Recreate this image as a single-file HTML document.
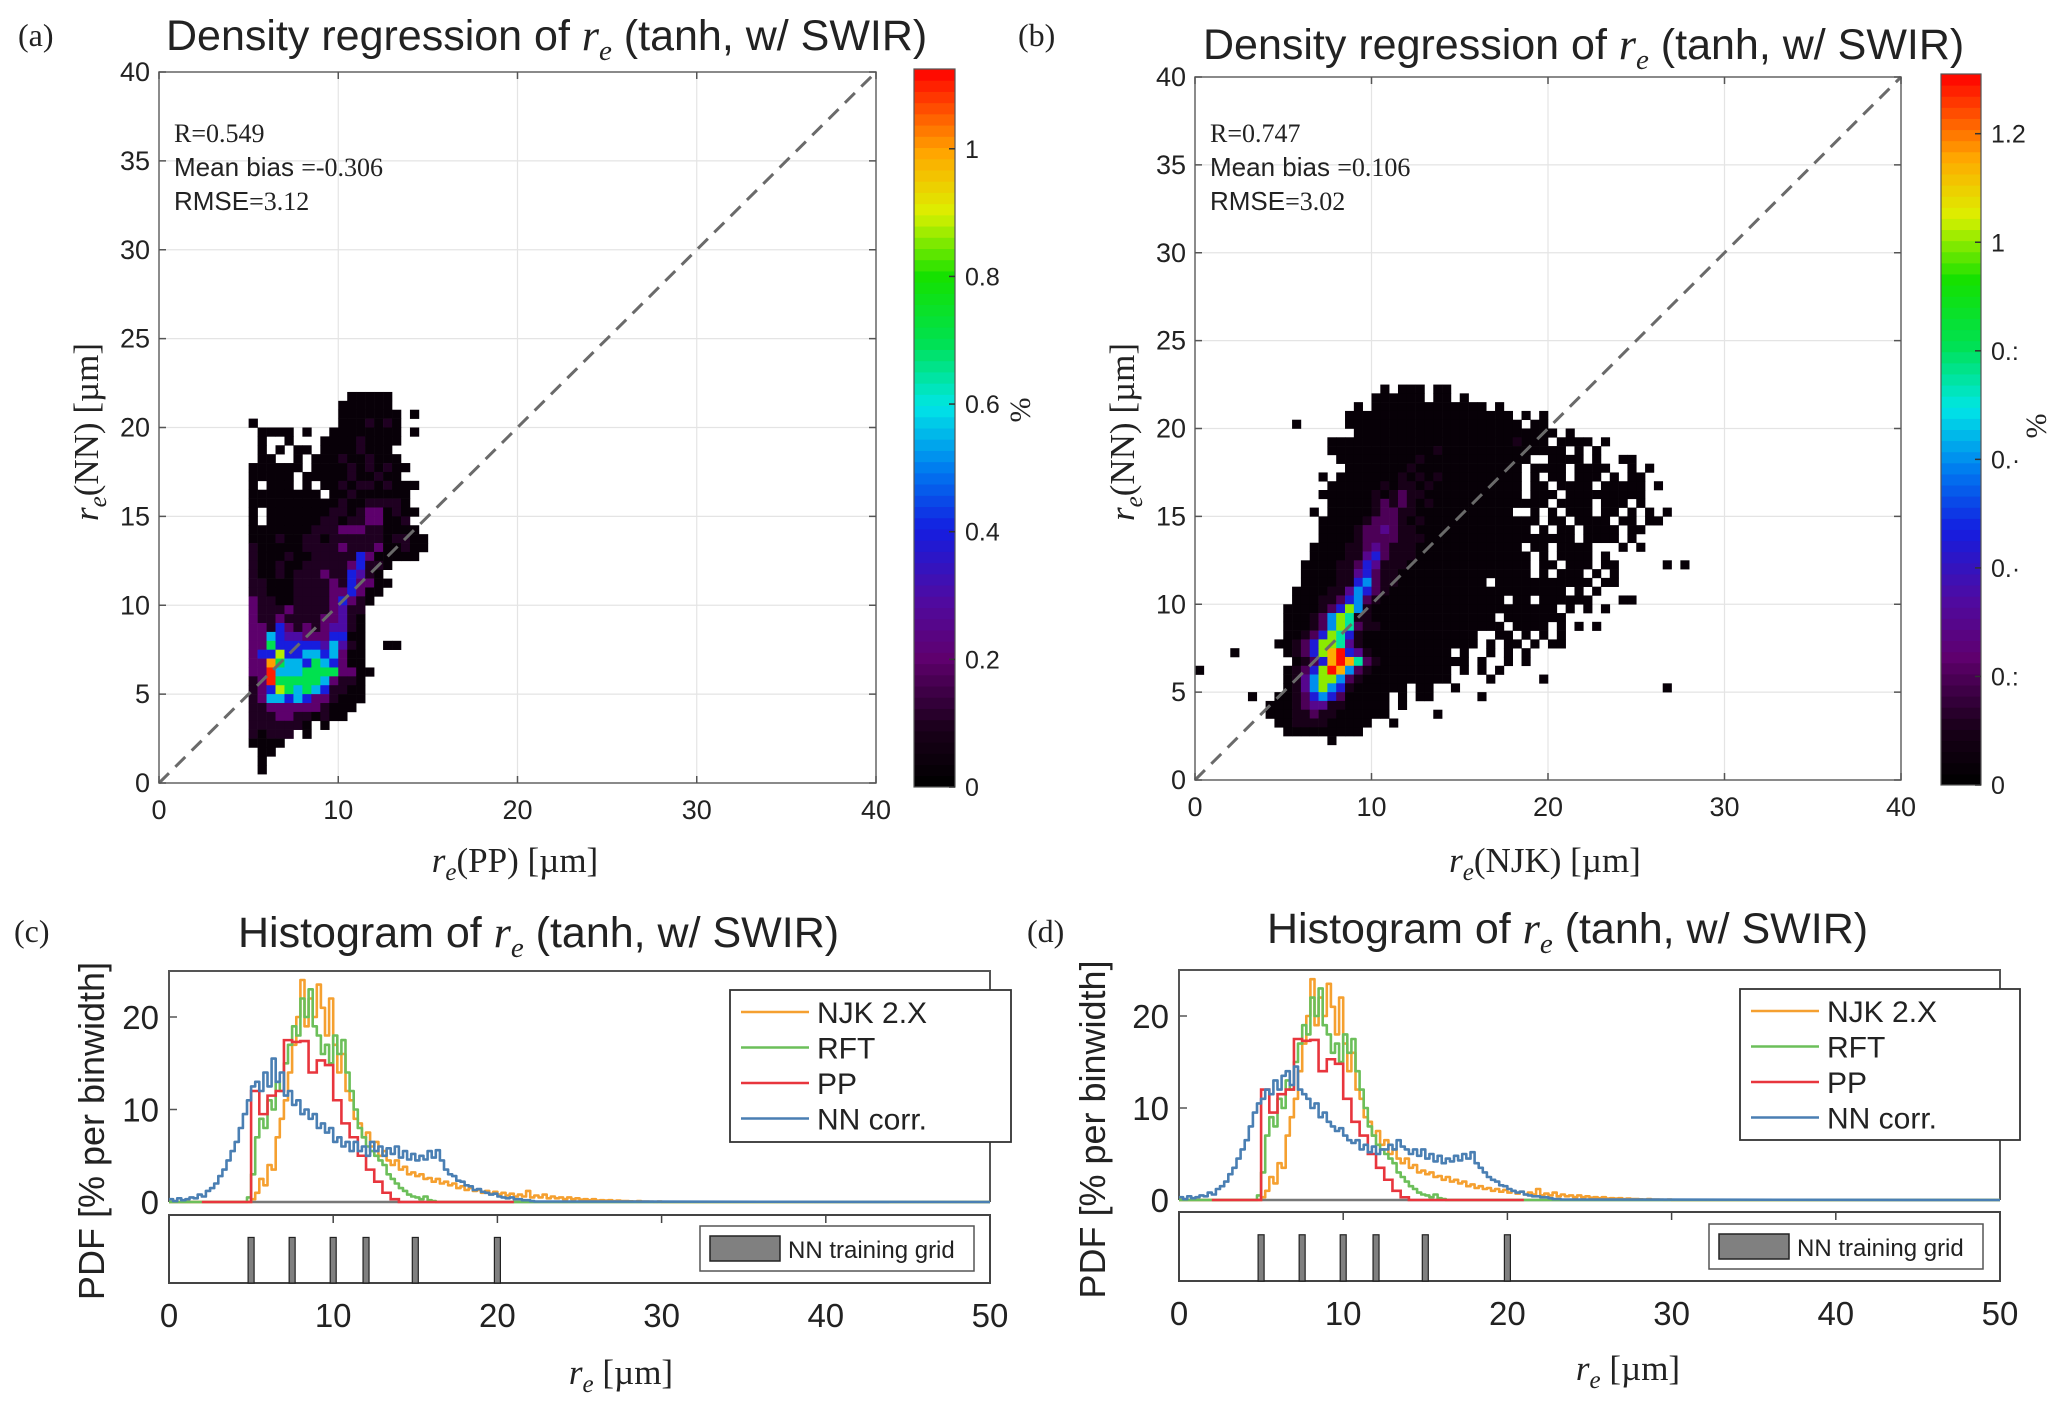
<!DOCTYPE html>
<html><head><meta charset="utf-8"><title>NN re density regressions and histograms</title>
<style>
html,body{margin:0;padding:0;background:#fff;}
svg{display:block;}
text{font-family:"Liberation Sans",sans-serif;fill:#222;}
.serif{font-family:"Liberation Serif",serif;}
</style></head>
<body>
<svg id="fig" width="2067" height="1410" viewBox="0 0 2067 1410" xmlns="http://www.w3.org/2000/svg">
<rect width="2067" height="1410" fill="#fff"/>
<text class="serif" x="18" y="46" font-size="32">(a)</text>
<text class="serif" x="1018" y="46" font-size="32">(b)</text>
<text class="serif" x="14" y="942" font-size="32">(c)</text>
<text class="serif" x="1027" y="942" font-size="32">(d)</text>

<text x="166" y="50" font-size="43">Density regression of <tspan class="serif" font-style="italic" font-size="44">r</tspan><tspan class="serif" font-style="italic" font-size="29" dy="10">e</tspan><tspan dy="-10"> (tanh, w/ SWIR)</tspan></text>
<text x="1203" y="59" font-size="43">Density regression of <tspan class="serif" font-style="italic" font-size="44">r</tspan><tspan class="serif" font-style="italic" font-size="29" dy="10">e</tspan><tspan dy="-10"> (tanh, w/ SWIR)</tspan></text>
<text x="238" y="947" font-size="43">Histogram of <tspan class="serif" font-style="italic" font-size="44">r</tspan><tspan class="serif" font-style="italic" font-size="29" dy="10">e</tspan><tspan dy="-10"> (tanh, w/ SWIR)</tspan></text>
<text x="1267" y="943" font-size="43">Histogram of <tspan class="serif" font-style="italic" font-size="44">r</tspan><tspan class="serif" font-style="italic" font-size="29" dy="10">e</tspan><tspan dy="-10"> (tanh, w/ SWIR)</tspan></text>
<g id="layer"></g>
</svg>
<script>
// ---------- density data (a): rows top->bottom, y from 21.5 step -0.5; cols x from 5 step 0.5
const aRowTop = 21.5;
const aColStart = 5;
const aRows = [
"...........00000....",
"..........000000....",
"..........0000000.0.",
"0.........0001010...",
".0000.0..00000000.0.",
".0..0...000010000...",
".0.0.00.00001000....",
".00..0.0001001000...",
"000000.00001010100..",
"00000.00000100100...",
"0.000.0.00101101000.",
"00000000.001000000..",
"000000000010011110..",
"0.00000001101220100.",
"0.0000001101122001..",
"0000000111222110000.",
"00010011011111101100",
"10000011112111200100",
"1000100111114200000.",
"1001001111124110....",
"100101112114310.....",
"1100011112142200....",
"110001111224200.....",
"21100111124210......",
"2111211112311.......",
"2112111122310.......",
"2214212123310.......",
"2254332224400.......",
"2264444435310..00...",
"2447445545200.......",
"2286554654200.......",
"22955566662200......",
"1296666652110.......",
"1247656541100.......",
"1255454221000.......",
"112222221000........",
"11122110100.........",
"1111110.0...........",
"10111.0.............",
"0000................",
".00.................",
".0..................",
".0.................."
];
const aLevelVals = [0.03,0.1,0.2,0.3,0.4,0.55,0.7,0.88,1.0,1.1];
const aCbarMax = 1.125;
const aCbarTicks = [0,0.2,0.4,0.6,0.8,1];
const aCbarLabels = ["0","0.2","0.4","0.6","0.8","1"];

// ---------- density data (b): rows top->bottom, y from 22 step -0.5; cols x from 0 step 0.5
const bRowTop = 22.0;
const bColStart = 0;
const bRows = [
".....................0.000.00",
"....................000000.00.0",
"..................0.0000000000000.0",
".................0000000000000000000.0.0",
"...........0.....00000000000000000000.00",
"..................00000000000000000000000.0",
"...............0000000000000000000001000.0000.0",
"...............000000000000100000000000000.0.0",
"................0000000001000000000000..0000.0..00",
".................00000001000000000000.0000.0000..0.0",
"..............0.000000010101000000000.0.00.000.0.00",
"...............0000001011010000000000.00.0000.00000.0",
"..............00000010121100000000000.000.000000000",
"...............0000012121010000000000000.0000.000.0",
".............0.000001221100000000000..0.0.000.00.0.0.0",
"..............0000012221010000000000000.00.0000.00.00",
"..............000012232110000000000000.0.00.0000.00",
"..............00001222211100000000000000000.0000.0",
".............000011232111000000000000.00.0000...0.0",
".............0000113421110000000000000.0.0000.0",
"............00001124311100000000000000.00.000.00.....0.0",
"............00001134211000000000000000.0.000.0.0",
"............000011452110000000000.00000000000.00",
"...........0000113542100000000000000000000.0.0",
"...........000112452100000000000000.00.000000...00",
"..........0000124751000000000000000000000.0.0.0",
"..........000125761100000000000000.0000000..",
"..........0001257621100000000000000.0000.0.0.0",
"..........0012476410000000000000..00.0.0.0..",
".........00124776310000000000000.0.00.0.00",
"....0.....0124789431000000000.0..0.0.0",
"...........01248986210000000000.0..0.0",
"0.........0124798521000000000.0.0.0",
"..........0135775210000000000....0.....0",
"..........01357541000000.00..0.......................0",
"......0..0012454200000.0.00.....0",
"........00012331100000.0",
"........00011211000000.....0",
".........00111100000..0",
"..........000000000",
"...............0"
];
const bLevelVals = [0.03,0.1,0.2,0.3,0.45,0.6,0.75,1.0,1.15,1.3];
const bCbarMax = 1.31;
const bCbarTicks = [0,0.2,0.4,0.6,0.8,1,1.2];
const bCbarLabels = ["0","0.:","0.·","0.·","0.:","1","1.2"];

const densTicks = [0,5,10,15,20,25,30,35,40];
const densXTicks = [0,10,20,30,40];

// ---------- histogram data (x step 0.25 from 0)
const histStep = 0.25;
const njk = [0,0,0,0,0,0,0,0,0,0,0,0,0,0,0,0,0,0,0,0,
0.3,1,2.5,1.8,4,3.5,7,9,11,14,17,20,24,19,22,20,23.5,21,18,22,17,14,16,12,11,9,8.5,7,7.5,6,6.5,5,5.5,4.5,4,4.5,3.5,3.8,3,3.2,2.8,3,2.5,2.6,2.2,2.5,2,2.2,1.8,2,1.5,1.7,1.3,1.5,1.2,1.3,1,1.2,0.9,1.1,0.8,1,0.7,0.9,0.6,0.8,0.6,1.2,0.5,0.7,0.5,0.8,0.4,0.6,0.4,0.5,0.3,0.5,0.3,0.4,0.25,0.3,0.2,0.3,0.15,0.2,0.15,0.2,0.1,0.15,0.1,0.1,0.08,0.05,0.1,0.05,0.05,0.03,0.02,0.05,0];
const rft = [0,0,0,0,0,0,0,0,0,0,0,0,0,0,0,0,0,0,0,0.5,
3,7,9,8,11,10,13,12,15,17,19,18,22,20,23,19,18,16,17,15,18,16,17.5,14,12,10,8,7,6,5.5,5,4.5,4,3,2.5,2,1.5,1.2,0.8,0.6,0.5,0.3,0.6,0.2,0.1,0];
const ppEdges = [5,5.5,6,6.5,7,7.5,8,8.5,9,9.5,10,10.5,11,11.5,12,12.5,13,13.5,14];
const ppVals = [12,9.5,11.5,12,17.5,17.3,17.4,14,15.3,14.8,11,8.5,7,5,3.5,2.2,1,0.3];
const nnC = [0.3,0.1,0.4,0.2,0.3,0.5,0.4,0.8,0.6,1.2,1.5,2,2.8,3.5,4.5,5.5,6.5,8,9.5,11,
12.5,13,12,14,12.5,15.5,13,14,11.5,12,10.5,11,9.5,10,9,9.5,8,8.5,7.5,8,6.5,7,6,6.5,5.5,6.5,5.5,6,5,6.5,5.5,6,5,5.8,5.2,6,4.8,5.5,4.6,5.2,4.5,5,4.6,5.5,4.8,5.6,4.5,3.5,3,2.8,2.3,2.2,1.8,1.7,1.3,1.4,1.1,1,0.8,0.9,0.6,0.5,0.4,0.5,0.3,0.3,0.2,0.2,0.1,0.05,0.05];
const nnD = [0.3,0.1,0.4,0.2,0.3,0.5,0.4,0.8,0.6,1.2,1.5,2,2.8,3.5,4.5,5.5,6.5,8,9.5,10.5,
11,12,11.5,13,12,13.5,14,12.5,14.5,12,11.5,11,10,10.5,9,9.5,8.5,8,7.5,7.8,7,6.5,6.2,6.5,5.5,6,5.2,5.8,5,5.5,5.5,6,5.5,6.5,5.8,5.5,5,5.5,4.8,5.5,4.5,5,4.2,4.8,4,4.5,4.2,4.8,4.3,5,4.5,5.2,4,3.5,3,2.5,2.2,2,1.6,1.5,1.2,1,0.8,0.9,0.6,0.5,0.4,0.4,0.3,0.3,0.2,0.1,0.1,0.05];
const gridVals = [5,7.5,10,12,15,20];
const histYTicks = [0,10,20];
const histXTicks = [0,10,20,30,40,50];
const legendNames = ["NJK 2.X","RFT","PP","NN corr."];

// ---------- drawing ----------
const NS = "http://www.w3.org/2000/svg";
const layer = document.getElementById('layer');
function mk(tag, attrs, parent){
  const e = document.createElementNS(NS, tag);
  for (const k in attrs) e.setAttribute(k, attrs[k]);
  (parent||layer).appendChild(e);
  return e;
}
function cmap(f){
  const st=[[0,[0,0,0]],[0.08,[25,0,25]],[0.18,[95,0,110]],[0.26,[80,10,160]],[0.36,[20,30,225]],[0.44,[0,120,240]],[0.53,[0,230,230]],[0.62,[0,225,80]],[0.71,[20,225,0]],[0.8,[220,240,0]],[0.88,[255,170,0]],[1,[255,0,0]]];
  f=Math.max(0,Math.min(1,f));
  for(let i=1;i<st.length;i++){ if(f<=st[i][0]){const a=st[i-1],b=st[i];const t=(f-a[0])/(b[0]-a[0]);
    const c=a[1].map((v,j)=>Math.round(v+(b[1][j]-v)*t));return 'rgb('+c.join(',')+')';}}
  return 'rgb(255,0,0)';
}

function densityPanel(P, rows, rowTop, colStart, levelVals, cmax, cbTicks, cbLabels, key){
  const sx = v => P.l + (v-0)/40*(P.r-P.l);
  const sy = v => P.b - (v-0)/40*(P.b-P.t);
  const g = mk('g',{});
  
  
  mk('rect',{x:P.l,y:P.t,width:P.r-P.l,height:P.b-P.t,fill:'#fff'},g);
  densTicks.forEach(t=>{
    const gl = mk('line',{x1:P.l,x2:P.r,y1:sy(t),y2:sy(t),stroke:'#e4e4e4','stroke-width':1.2},g);
    
    
  });
  densXTicks.forEach(t=>{
    const gl = mk('line',{x1:sx(t),x2:sx(t),y1:P.t,y2:P.b,stroke:'#e4e4e4','stroke-width':1.2},g);
    
    
  });
  const cells = mk('g',{},g);
  
  
  rows.forEach((row,i)=>{
    const y0 = rowTop - 0.5*i;
    for(let c=0;c<row.length;c++){
      const ch=row[c]; if(ch==='.') continue;
      const v = levelVals[+ch];
      const x0 = colStart + 0.5*c;
      const r = mk('rect',{x:sx(x0),y:sy(y0+0.5),width:sx(x0+0.5)-sx(x0)+0.3,height:sy(y0)-sy(y0+0.5)+0.3,fill:cmap(v/cmax)},cells);
      
      
    }
  });
  const d = mk('line',{x1:sx(0),y1:sy(0),x2:sx(40),y2:sy(40),stroke:'#6a6a6a','stroke-width':3,'stroke-dasharray':'14 9'},g);
  
  
  const fr = mk('rect',{x:P.l,y:P.t,width:P.r-P.l,height:P.b-P.t,fill:'none',stroke:'#666','stroke-width':1.5},g);
  
  
  densTicks.forEach(t=>{
    mk('line',{x1:P.l,x2:P.l+7,y1:sy(t),y2:sy(t),stroke:'#555','stroke-width':1.5},g);
    mk('line',{x1:P.r,x2:P.r-7,y1:sy(t),y2:sy(t),stroke:'#555','stroke-width':1.5},g);
    const tl = mk('text',{x:P.l-9,y:sy(t)+9,'font-size':27,'text-anchor':'end'},g);
    tl.textContent = t;
    
    
  });
  densXTicks.forEach(t=>{
    mk('line',{x1:sx(t),x2:sx(t),y1:P.b,y2:P.b-7,stroke:'#555','stroke-width':1.5},g);
    mk('line',{x1:sx(t),x2:sx(t),y1:P.t,y2:P.t+7,stroke:'#555','stroke-width':1.5},g);
    const tl = mk('text',{x:sx(t),y:P.b+36,'font-size':27,'text-anchor':'middle'},g);
    tl.textContent = t;
    
    
  });
  const cb = mk('g',{},g);
  
  
  const n=64, h=(P.cb1-P.cb0)/n;
  for(let i=0;i<n;i++){
    mk('rect',{x:P.cbx,y:P.cb1-(i+1)*h,width:P.cbw,height:h+0.5,fill:cmap((i+0.5)/n)},cb);
  }
  mk('rect',{x:P.cbx,y:P.cb0,width:P.cbw,height:P.cb1-P.cb0,fill:'none',stroke:'#555','stroke-width':1.2},cb);
  cbTicks.forEach((t,i)=>{
    const y = P.cb1 - t/cmax*(P.cb1-P.cb0);
    mk('line',{x1:P.cbx+P.cbw-6,x2:P.cbx+P.cbw,y1:y,y2:y,stroke:'#333','stroke-width':1.5},cb);
    const tl = mk('text',{x:P.cbx+P.cbw+10,y:y+9,'font-size':25},cb);
    tl.textContent = cbLabels[i];
    
    
  });
}

const PA = {l:159,r:876,t:72,b:783,cbx:914,cbw:41,cb0:69,cb1:787};
const PB = {l:1195,r:1901,t:77,b:780,cbx:1941,cbw:40,cb0:74,cb1:785};
densityPanel(PA,aRows,aRowTop,aColStart,aLevelVals,aCbarMax,aCbarTicks,aCbarLabels,'a');
densityPanel(PB,bRows,bRowTop,bColStart,bLevelVals,bCbarMax,bCbarTicks,bCbarLabels,'b');

function statsText(x,y,parts,key){
  const t = mk('text',{x:x,y:y,'font-size':26});
  
  
  parts.forEach((line,i)=>{
    line.forEach((p,j)=>{
      const a = {};
      if(j===0){ a.x=x; a.dy = i?34:0; }
      if(p[1]) a['class']='serif';
      const s=mk('tspan',a,t); s.textContent=p[0];
    });
  });
}
statsText(174,142,[[["R=0.549",1]],[["Mean bias  ",0],["=-0.306",1]],[["RMSE",0],["=3.12",1]]],'a');
statsText(1210,142,[[["R=0.747",1]],[["Mean bias  ",0],["=0.106",1]],[["RMSE",0],["=3.02",1]]],'b');

function axisLabelRot(x,y,key,sub){
  const t = mk('text',{transform:'translate('+x+','+y+') rotate(-90)','font-size':35,class:'serif','text-anchor':'middle'});
  
  
  const a=mk('tspan',{'font-style':'italic'},t); a.textContent='r';
  const b=mk('tspan',{'font-style':'italic','font-size':25,dy:8},t); b.textContent='e';
  const c=mk('tspan',{dy:-8},t); c.textContent=sub;
}
axisLabelRot(98,432,'a','(NN)  [\u00b5m]');
axisLabelRot(1134,432,'b','(NN)  [\u00b5m]');
function xTitle(x,y,key,sub){
  const t = mk('text',{x:x,y:y,'font-size':35,class:'serif','text-anchor':'middle'});
  
  
  const a=mk('tspan',{'font-style':'italic'},t); a.textContent='r';
  const b=mk('tspan',{'font-style':'italic','font-size':25,dy:8},t); b.textContent='e';
  const c=mk('tspan',{dy:-8},t); c.textContent=sub;
}
xTitle(515,872,'a','(PP) [\u00b5m]');
xTitle(1545,872,'b','(NJK) [\u00b5m]');
xTitle(621,1384,'c',' [\u00b5m]');
xTitle(1628,1380,'d',' [\u00b5m]');
[[1030,410,'a'],[2046,426,'b']].forEach(p=>{
  const t=mk('text',{transform:'translate('+p[0]+','+p[1]+') rotate(-90)','font-size':30,class:'serif','text-anchor':'middle'});
  t.textContent='%';
  
  
});

// ---------- histograms ----------
function histPanel(H, nn, key, names){
  const sx = v => H.l + v/50*(H.r-H.l);
  const sy = v => H.z - v*H.k;
  const g = mk('g',{});
  
  
  const fr = mk('path',{d:'M'+H.l+','+H.z+' V'+H.t+' H'+H.r+' V'+H.z,fill:'none',stroke:'#555','stroke-width':2},g);
  
  
  histYTicks.forEach(t=>{
    mk('line',{x1:H.l,x2:H.l+8,y1:sy(t),y2:sy(t),stroke:'#555','stroke-width':1.5},g);
    const tl=mk('text',{x:H.l-10,y:sy(t)+12,'font-size':33,'text-anchor':'end'},g);
    tl.textContent=t;
    
    
  });
  mk('line',{x1:H.l,x2:H.r,y1:H.z,y2:H.z,stroke:'#777','stroke-width':2.5},g);
  function series(arr,color,name){
    let d='';
    arr.forEach((v,i)=>{ const x=sx(i*histStep), x2=sx((i+1)*histStep), y=sy(v);
      d += (i?'L':'M')+x.toFixed(1)+','+y.toFixed(1)+'L'+x2.toFixed(1)+','+y.toFixed(1); });
    d += 'L'+sx(50).toFixed(1)+','+sy(0).toFixed(1);
    const p=mk('path',{d:d,fill:'none',stroke:color,'stroke-width':2.6,'stroke-linejoin':'round'},g);
    
    
  }
  series(njk,'#f5a030','series-njk');
  series(rft,'#6cbf5a','series-rft');
  let d='M'+sx(2)+','+sy(0)+'L'+sx(ppEdges[0])+','+sy(0);
  ppVals.forEach((v,i)=>{ d+='L'+sx(ppEdges[i])+','+sy(v)+'L'+sx(ppEdges[i+1])+','+sy(v); });
  d+='L'+sx(ppEdges[ppEdges.length-1])+','+sy(0)+'L'+sx(21)+','+sy(0);
  const pp=mk('path',{d:d,fill:'none',stroke:'#e8353d','stroke-width':2.6},g);
  
  
  series(nn,'#4a7fb3','series-nn-corr');
  const lg=mk('g',{},g);
  
  
  mk('rect',{x:H.lgx,y:H.lgy,width:H.lgw,height:H.lgh,fill:'#fff',stroke:'#333','stroke-width':1.8},lg);
  const cols=['#f5a030','#6cbf5a','#e8353d','#4a7fb3'];
  names.forEach((n,i)=>{
    const y=H.lgy+22+i*35.5;
    const ln=mk('line',{x1:H.lgx+11,x2:H.lgx+79,y1:y,y2:y,stroke:cols[i],'stroke-width':2.5},lg);
    
    
    const t=mk('text',{x:H.lgx+87,y:y+11,'font-size':30},lg);
    t.textContent=n;
    
    
  });
  const lp=mk('g',{},g);
  
  
  mk('rect',{x:H.l,y:H.lt,width:H.r-H.l,height:H.lb-H.lt,fill:'#fff',stroke:'#444','stroke-width':2},lp);
  histXTicks.forEach(t=>{
    mk('line',{x1:sx(t),x2:sx(t),y1:H.lt,y2:H.lt+8,stroke:'#444','stroke-width':1.5},lp);
    const tl=mk('text',{x:sx(t),y:H.lb+44,'font-size':33,'text-anchor':'middle'},lp);
    tl.textContent=t;
    
    
  });
  const bt = H.lb-(H.lb-H.lt)*0.67;
  gridVals.forEach(v=>{
    const b=mk('rect',{x:sx(v)-3,y:bt,width:6,height:H.lb-bt,fill:'#808080',stroke:'#222','stroke-width':1.2},lp);
    
    
  });
  const l2=mk('g',{},lp);
  
  
  mk('rect',{x:H.l2x,y:H.l2y,width:H.l2w,height:45,fill:'#fff',stroke:'#555','stroke-width':1.5},l2);
  mk('rect',{x:H.l2x+10,y:H.l2y+10,width:70,height:25,fill:'#808080',stroke:'#222','stroke-width':1.5},l2);
  const t=mk('text',{x:H.l2x+88,y:H.l2y+32,'font-size':24},l2);
  t.textContent='NN training grid';
  
  
  const yl=mk('text',{transform:'translate('+H.ylx+','+((H.t+H.lb)/2+4)+') rotate(-90)','font-size':36,'text-anchor':'middle'},g);
  yl.textContent='PDF [% per binwidth]';
  
  
}
histPanel({l:169,r:990,t:971,z:1202,k:9.25,lt:1215,lb:1283,lgx:730,lgy:990,lgw:281,lgh:152,l2x:700,l2y:1226,l2w:274,ylx:104},nnC,'c',legendNames);
histPanel({l:1179,r:2000,t:970,z:1200,k:9.2,lt:1212,lb:1281,lgx:1740,lgy:989,lgw:280,lgh:151,l2x:1709,l2y:1224,l2w:274,ylx:1105},nnD,'d',legendNames);
</script>
</body></html>
